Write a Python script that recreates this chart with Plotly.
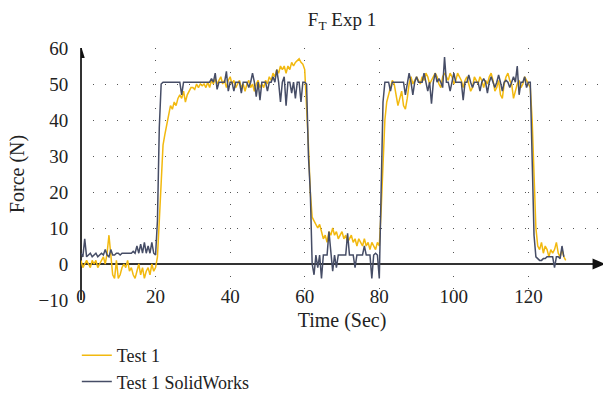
import plotly.graph_objects as go

# sample times (s), 0.5 s step from 0 to 130
time_s = [i * 0.5 for i in range(261)]

test1 = [
    1, -1, 0, 1, 0, -1, 1, 0, 1, -1,
    0, 1, 2, 0, 3, 8, 2, -3, -4, 1,
    -4, -3, -1, 0, -1, 1, -2, -1, -3, -4,
    -2, 0, -3, -1, -4, -2, -1, -3, 0, -2,
    -1, 2, 12, 24, 33, 36, 39, 42, 44, 43,
    45, 44, 46, 47, 46, 48, 45, 47, 48, 49,
    49, 48.5, 50, 49, 50, 49.5, 50, 49, 50.5, 49,
    51, 50, 51.5, 50, 51, 52, 50, 51, 49, 51,
    52, 50, 51, 49, 50, 51, 49, 50, 48, 50,
    51, 49, 50, 48, 50, 51, 49, 50, 49, 51,
    50, 52, 51, 53, 52, 54, 53, 55, 54, 55,
    53, 55, 54, 56, 55, 56, 56.5, 57, 56, 55.5,
    54, 45, 33, 20, 13, 12, 11, 10, 11, 9,
    7, 8, 6, 9, 8, 10, 8, 9, 7, 8,
    9, 7, 8, 6, 7, 8, 6, 7, 5, 7,
    6, 5, 7, 5, 6, 4, 6, 5, 4, 6,
    5, 15, 30, 40, 45, 47, 49, 51, 50, 47,
    44, 46, 48, 44, 43, 46, 50, 52, 50, 51,
    52, 51, 50, 52, 51, 53, 52, 50, 51, 52,
    53, 52, 50, 49, 52, 53, 52, 51, 53, 52,
    50, 51, 53, 52, 51, 49, 51, 52, 50, 48,
    49, 52, 51, 50, 52, 51, 49, 51, 50, 52,
    53, 51, 48, 49, 51, 47, 46, 50, 52, 53,
    51, 50, 46, 48, 50, 51, 49, 50, 52, 51,
    50, 49, 40, 25, 10, 5, 4, 6, 3, 5,
    4, 2, 4, 3, 4, 6, 3, 2, 4, 2,
    1,
]

solidworks = [
    3, 2, 7, 2, 2.5, 3, 2, 2.5, 3, 2,
    2.5, 3, 2.5, 4, 2.5, 2, 4, 2.5, 2.5, 3,
    3, 2.5, 3, 3, 3, 3, 3, 3, 3.5, 3,
    5, 3, 5.5, 3, 6, 3, 5, 3, 6, 3,
    2.5, 12, 38, 50, 50.5, 50.5, 50.5, 50.5, 50.5, 50.5,
    50.5, 50.5, 50.5, 50.5, 47, 50.5, 50.5, 50.5, 50.5, 50.5,
    50.5, 50.5, 50.5, 50.5, 50.5, 50.5, 50.5, 50.5, 50.5, 50.5,
    51.5, 50.5, 53, 48.5, 50.5, 50.5, 50.5, 50.5, 53.5, 48,
    50.5, 50.5, 48, 50.5, 50.5, 50.5, 47.5, 50.5, 50.5, 50.5,
    49, 50.5, 53, 50.5, 46.5, 50.5, 45.5, 50.5, 50.5, 50.5,
    48, 50.5, 50.5, 52, 50.5, 54, 50.5, 45, 50.5, 52,
    44, 50.5, 50.5, 47.5, 50.5, 46, 50.5, 50.5, 45, 50.5,
    50.5, 50, 30, 20, 0, -3, 2.5, -1, 2.5, -4,
    2.5, 2.5, 2.5, 9, 2.5, -2, 2.5, -1, 2.5, 2.5,
    2.5, 2.5, 2.5, 8.5, 2.5, 2.5, 2.5, -1, 2.5, 2.5,
    2.5, 2.5, 5, 2.5, 2.5, 2.5, -4, 2.5, 3, 2.5,
    -4, 20, 45, 50.5, 50.5, 50.5, 48, 50.5, 50.5, 50.5,
    50.5, 50.5, 50.5, 50.5, 47, 50.5, 53, 50.5, 47, 50.5,
    52, 50.5, 50.5, 50.5, 53, 50.5, 48, 50.5, 44.5, 50.5,
    53, 50.5, 51.5, 50.5, 49, 57.5, 50.5, 50.5, 48, 50.5,
    53, 50.5, 50.5, 50.5, 50.5, 45.5, 50.5, 50.5, 52.5, 50.5,
    49, 50.5, 50.5, 50.5, 48, 50.5, 51.5, 50.5, 47.5, 50.5,
    52, 50.5, 49, 50.5, 52.5, 50.5, 48, 50.5, 51, 50.5,
    49, 50.5, 52, 50.5, 55, 47, 50.5, 50.5, 52, 49,
    50.5, 50.5, 30, 8, 2, 1.5, 1, 1, 1.5, 1.5,
    2, 2, 2, 2, -1, 2, 2, 1.5, 5, 2,
    None,
]

x_ticks = [0, 20, 40, 60, 80, 100, 120, 140]
y_ticks = [-10, 0, 10, 20, 30, 40, 50, 60]

YELLOW = "#F2B90F"
NAVY = "#464D66"
FONT = "Liberation Serif"

fig = go.Figure()
fig.add_trace(go.Scatter(x=time_s, y=test1, mode="lines", name="Test 1",
                         line=dict(color=YELLOW, width=1.5)))
fig.add_trace(go.Scatter(x=time_s, y=solidworks, mode="lines", name="Test 1 SolidWorks",
                         line=dict(color=NAVY, width=1.5)))

grid_kw = dict(showgrid=True, gridcolor="#555555", gridwidth=1, griddash="1px,11px")

fig.update_layout(
    width=616, height=394,
    margin=dict(l=81, r=13, t=48, b=94, autoexpand=False),
    paper_bgcolor="white", plot_bgcolor="white",
    font=dict(family=FONT, size=20, color="#222222"),
    title=dict(text="F<sub>T</sub> Exp 1", x=(81 + 603) / 2 / 616, xanchor="center",
               y=1 - 19 / 394, yanchor="middle", font=dict(size=19)),
    showlegend=True,
    legend=dict(x=-0.008, y=1 - 337 / 394, xref="paper", yref="container",
                xanchor="left", yanchor="top",
                bgcolor="rgba(0,0,0,0)", font=dict(size=18), tracegroupgap=0),
    xaxis=dict(range=[0, 140], tickvals=x_ticks, ticktext=[str(v) for v in x_ticks],
               anchor="free", position=1 / 7, ticks="outside", ticklen=15,
               tickcolor="rgba(0,0,0,0)", tickfont=dict(size=19),
               zeroline=True, zerolinecolor="#333333",
               zerolinewidth=1.5, showline=False, **grid_kw,
               title=dict(text="Time (Sec)", standoff=7, font=dict(size=20)),
               automargin=False),
    yaxis=dict(range=[-10, 60], tickvals=y_ticks, ticks="outside", ticklen=8,
               tickcolor="rgba(0,0,0,0)", tickfont=dict(size=19),
               zeroline=True, zerolinecolor="#333333",
               zerolinewidth=1.5, showline=False, **grid_kw,
               title=dict(text="Force (N)", standoff=8, font=dict(size=20)),
               automargin=False),
)

# axis arrows
fig.add_shape(type="path", xref="x", yref="y",
              path="M -1.0 57.2 L 1.0 57.2 L 0 60.6 Z",
              fillcolor="#111111", line=dict(width=0))
fig.add_shape(type="path", xref="x", yref="y",
              path="M 137.2 1.5 L 137.2 -1.5 L 140.6 0 Z",
              fillcolor="#111111", line=dict(width=0))

fig.write_html("out.html")
